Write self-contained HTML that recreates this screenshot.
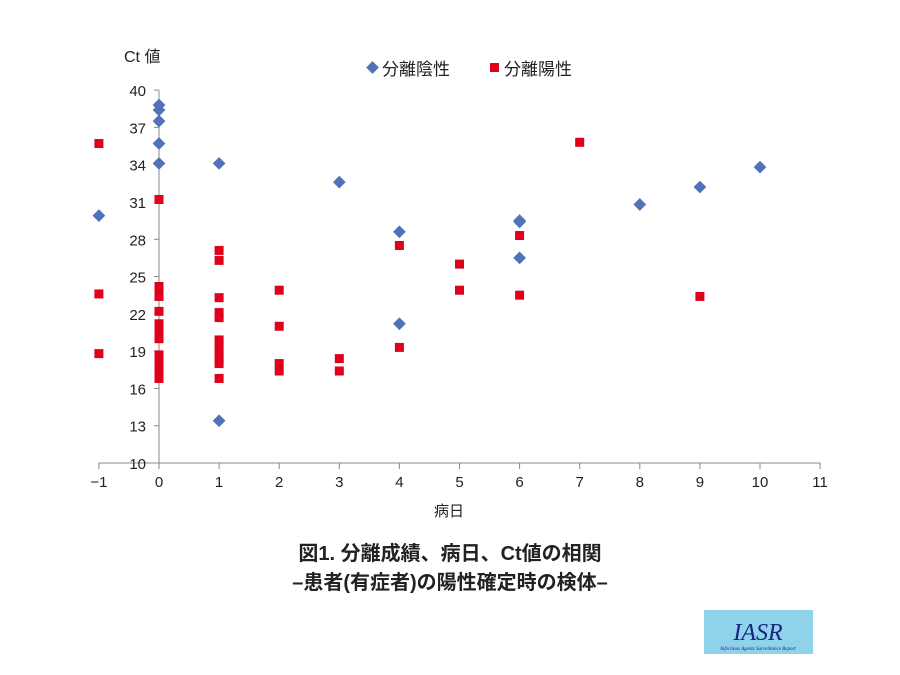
<!DOCTYPE html>
<html><head><meta charset="utf-8"><style>
body{margin:0;background:#fff;}
svg{display:block;font-family:"Liberation Sans","Noto Sans CJK JP",sans-serif;}
</style></head><body>
<svg width="900" height="675" viewBox="0 0 900 675">
<g id="axes"></g><g id="marks"></g>
<text x="124" y="62" font-size="16" fill="#222">Ct 値</text>
<g>
<rect x="368" y="63" width="9" height="9" fill="#4f72b8" transform="rotate(45 372.5 67.5)"/>
<text x="382" y="75" font-size="17" fill="#222">分離陰性</text>
<rect x="490" y="63" width="9" height="9" fill="#e0001b"/>
<text x="504" y="75" font-size="17" fill="#222">分離陽性</text>
</g>
<text x="449" y="516" font-size="15" fill="#222" text-anchor="middle">病日</text>
<text x="450" y="560" font-size="20" font-weight="bold" fill="#222" text-anchor="middle">図1. 分離成績、病日、Ct値の相関</text>
<text x="450" y="589" font-size="20" font-weight="bold" fill="#222" text-anchor="middle">–患者(有症者)の陽性確定時の検体–</text>
<g>
<rect x="704" y="610" width="109" height="44" fill="#8fd3ea"/>
<text x="758" y="640" font-size="24" font-style="italic" fill="#1a237e" text-anchor="middle" font-family="Liberation Serif,serif">IASR</text>
<text x="758" y="650" font-size="5" font-style="italic" fill="#1a237e" text-anchor="middle" font-family="Liberation Serif,serif">Infectious Agents Surveillance Report</text>
</g>
</svg>
<script>
const xTicks=[-1,0,1,2,3,4,5,6,7,8,9,10,11];
const yTicks=[10,13,16,19,22,25,28,31,34,37,40];
const negX=[-1,0,0,0,0,0,1,1,3,4,4,6,6,6,8,9,10];
const negY=[29.9,38.8,38.4,37.5,35.7,34.1,34.1,13.4,32.6,28.6,21.2,29.5,29.4,26.5,30.8,32.2,33.8];
const posX=[-1,-1,-1,0,0,0,0,0,0,0,0,0,0,0,0,0,1,1,1,1,1,1,1,1,1,1,1,2,2,2,2,3,3,4,4,5,5,6,6,7,9];
const posY=[35.7,23.6,18.8,31.2,24.2,23.8,23.4,22.2,21.2,20.7,20.0,18.7,18.1,17.6,17.2,16.8,27.1,26.3,23.3,22.1,21.7,19.9,19.4,18.9,18.4,18.0,16.8,23.9,21.0,18.0,17.4,18.4,17.4,27.5,19.3,26.0,23.9,28.3,23.5,35.8,23.4];
const NS='http://www.w3.org/2000/svg';
const sx=v=>159+(v)*60.1, sy=v=>463-(v-10)*12.43;
function mk(t,a,p){const e=document.createElementNS(NS,t);for(const k in a)e.setAttribute(k,a[k]);p.appendChild(e);return e;}
const ax=document.getElementById('axes'), mg=document.getElementById('marks');
let l=mk('line',{x1:sx(-1),x2:sx(11),y1:sy(10),y2:sy(10),stroke:'#888'},ax);


l=mk('line',{x1:sx(0),x2:sx(0),y1:sy(10),y2:sy(40),stroke:'#888'},ax);


xTicks.forEach(v=>{mk('line',{x1:sx(v),x2:sx(v),y1:463,y2:469,stroke:'#888'},ax);
const t=mk('text',{x:sx(v),y:487,'font-size':15,fill:'#222','text-anchor':'middle'},ax);t.textContent=v<0?'\u2212'+(-v):v;

});
yTicks.forEach(v=>{mk('line',{x1:sx(0)-5,x2:sx(0),y1:sy(v),y2:sy(v),stroke:'#888'},ax);
const t=mk('text',{x:146,y:sy(v)+6,'font-size':15,fill:'#222','text-anchor':'end'},ax);t.textContent=v;

});
negX.forEach((x,i)=>{const cx=sx(x),cy=sy(negY[i]);
const r=mk('rect',{x:cx-4.5,y:cy-4.5,width:9,height:9,fill:'#4f72b8',transform:`rotate(45 ${cx} ${cy})`},mg);

});
posX.forEach((x,i)=>{const cx=sx(x),cy=sy(posY[i]);
const r=mk('rect',{x:cx-4.5,y:cy-4.5,width:9,height:9,fill:'#e0001b'},mg);

});
</script>
</body></html>
